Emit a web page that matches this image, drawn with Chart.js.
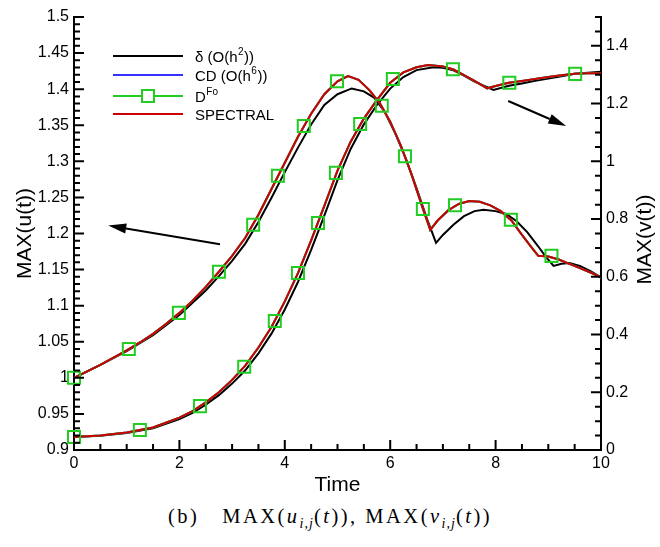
<!DOCTYPE html>
<html>
<head>
<meta charset="utf-8">
<script src="https://cdn.jsdelivr.net/npm/chart.js@4.4.1/dist/chart.umd.min.js"></script>
<style>
  body { margin: 0; background: #fff; }
  #wrap { position: relative; width: 660px; height: 500px; }
  #cap {
    position: absolute; left: 0; top: 505px; width: 660px; text-align: center;
    font-family: 'Liberation Serif', serif; font-size: 20.5px; letter-spacing: 2.5px; color: #000;
  }
  #cap sub { font-size: 14px; letter-spacing: 1px; }
</style>
</head>
<body>
<div id="wrap"><canvas id="maxChart"></canvas></div>
<div id="cap">(b)&nbsp;&nbsp;&nbsp;MAX(<i>u</i><sub><i>i,j</i></sub>(<i>t</i>)), MAX(<i>v</i><sub><i>i,j</i></sub>(<i>t</i>))</div>
<script>
// ---- data ----
// MAX(u) on the left axis
const tUSpectral = [0, 0.25, 0.5, 0.75, 1, 1.25, 1.5, 1.75, 2, 2.25, 2.5, 2.75, 3, 3.25, 3.5, 3.75, 4, 4.25, 4.5, 4.75, 5, 5.2, 5.4, 5.6, 5.8, 6, 6.2, 6.4, 6.6, 6.76, 6.9, 7.1, 7.3, 7.5, 7.7, 7.9, 8.1, 8.3, 8.5, 8.7, 8.81, 9, 9.2, 9.4, 9.6, 9.8, 10];
const uSpectral = [1.000, 1.009, 1.018, 1.028, 1.038, 1.049, 1.061, 1.075, 1.090, 1.107, 1.126, 1.147, 1.169, 1.194, 1.226, 1.262, 1.298, 1.334, 1.366, 1.393, 1.411, 1.418, 1.413, 1.399, 1.381, 1.355, 1.322, 1.283, 1.239, 1.205, 1.218, 1.232, 1.241, 1.245, 1.244, 1.239, 1.231, 1.218, 1.198, 1.179, 1.169, 1.168, 1.164, 1.158, 1.152, 1.146, 1.139];
const tUDelta = [0, 0.5, 1, 1.5, 2, 2.5, 2.75, 3, 3.25, 3.5, 3.75, 4, 4.25, 4.5, 4.75, 5, 5.27, 5.5, 5.7, 5.9, 6.1, 6.3, 6.5, 6.7, 6.87, 7, 7.2, 7.4, 7.6, 7.77, 8, 8.2, 8.4, 8.6, 8.8, 8.95, 9.1, 9.25, 9.4, 9.6, 9.8, 10];
const uDelta = [1.000, 1.018, 1.037, 1.059, 1.087, 1.121, 1.141, 1.162, 1.186, 1.216, 1.250, 1.285, 1.319, 1.351, 1.378, 1.393, 1.401, 1.397, 1.388, 1.368, 1.338, 1.303, 1.263, 1.220, 1.187, 1.198, 1.212, 1.224, 1.231, 1.233, 1.231, 1.227, 1.217, 1.202, 1.183, 1.168, 1.155, 1.158, 1.159, 1.155, 1.148, 1.139];
const tUFo = [0, 1.04, 1.99, 2.75, 3.40, 3.87, 4.36, 4.99, 5.84, 6.28, 6.62, 7.23, 8.29, 9.06];
const uFo = [1.000, 1.040, 1.090, 1.147, 1.212, 1.280, 1.349, 1.411, 1.377, 1.307, 1.234, 1.239, 1.219, 1.169];

// MAX(v) on the right axis
const tVSpectral = [0, 0.5, 1, 1.5, 2, 2.25, 2.5, 2.75, 3, 3.25, 3.5, 3.75, 4, 4.25, 4.5, 4.75, 5, 5.25, 5.5, 5.75, 6, 6.25, 6.5, 6.72, 7, 7.2, 7.4, 7.6, 7.84, 8, 8.25, 8.5, 8.75, 9, 9.25, 9.5, 9.75, 10];
const vSpectral = [0.045, 0.050, 0.061, 0.078, 0.112, 0.135, 0.165, 0.200, 0.243, 0.292, 0.355, 0.427, 0.515, 0.613, 0.726, 0.846, 0.968, 1.068, 1.148, 1.213, 1.272, 1.308, 1.326, 1.334, 1.329, 1.318, 1.299, 1.279, 1.253, 1.261, 1.272, 1.278, 1.285, 1.292, 1.298, 1.303, 1.305, 1.305];
const tVDelta = [0, 0.5, 1, 1.5, 2, 2.25, 2.5, 2.75, 3, 3.25, 3.5, 3.75, 4, 4.25, 4.5, 4.75, 5, 5.25, 5.5, 5.75, 6, 6.25, 6.5, 6.82, 7, 7.2, 7.4, 7.6, 7.96, 8.25, 8.5, 8.75, 9, 9.25, 9.5, 9.75, 10];
const vDelta = [0.045, 0.049, 0.059, 0.075, 0.107, 0.129, 0.157, 0.190, 0.230, 0.276, 0.335, 0.404, 0.487, 0.582, 0.693, 0.812, 0.935, 1.043, 1.128, 1.196, 1.252, 1.292, 1.316, 1.326, 1.324, 1.315, 1.297, 1.276, 1.247, 1.262, 1.270, 1.279, 1.287, 1.295, 1.303, 1.307, 1.310];
const tVFo = [0, 1.25, 2.39, 3.23, 3.81, 4.25, 4.63, 4.97, 5.43, 6.05, 7.19, 8.26, 9.51];
const vFo = [0.045, 0.069, 0.152, 0.288, 0.447, 0.613, 0.786, 0.960, 1.129, 1.285, 1.319, 1.272, 1.303];

// CD (O(h^6)) sits right under SPECTRAL in the picture
const uCD = uSpectral;
const vCD = vSpectral;

// tick labels
const timeTicks = [0, 2, 4, 6, 8, 10];
const uTicks = [0.9, 0.95, 1, 1.05, 1.1, 1.15, 1.2, 1.25, 1.3, 1.35, 1.4, 1.45, 1.5];
const vTicks = [0, 0.2, 0.4, 0.6, 0.8, 1, 1.2, 1.4];

const legendNames = ['δ (O(h', 'CD (O(h', 'D', 'SPECTRAL'];
const legendSups = ['2', '6', 'Fo', ''];
const legendTails = ['))', '))', '', ''];

// arrows pointing to the axis each curve belongs to: [t0, val0, t1, val1, axis]
const arrows = [[2.77, 1.185, 0.65, 1.211, 'y'], [8.24, 1.209, 9.34, 1.122, 'y2']];

const BLACK = '#000000', BLUE = '#3333ff', GREEN = '#22cc22', RED = '#cc0000';
const FONT = "'Liberation Sans', Arial, sans-serif";

function pts(ts, vs) {
    return ts.map((t, i) => ({x: t, y: vs[i]}));
}

function line(data, color, axis, order) {
    return {data: data, borderColor: color, backgroundColor: color, borderWidth: 2,
        pointRadius: 0, tension: 0, yAxisID: axis, order: order};
}

function marks(data, axis) {
    return {data: data, showLine: false, pointStyle: 'rect', pointRadius: 8.5,
        pointBorderWidth: 2, pointBorderColor: GREEN, pointBackgroundColor: 'rgba(0,0,0,0)',
        yAxisID: axis, order: 0, clip: false};
}

// inward major/minor ticks on the three axes
const axisTicks = {
    id: 'axisTicks',
    afterDatasetsDraw(chart) {
        const ctx = chart.ctx;
        const a = chart.chartArea;
        const sx = chart.scales.x, sy = chart.scales.y, sy2 = chart.scales.y2;
        ctx.save();
        ctx.strokeStyle = '#000';
        ctx.lineWidth = 2;
        ctx.beginPath();
        for (let i = 0; i <= 20; i++) {
            const px = sx.getPixelForValue(i * 0.5);
            const len = i % 4 === 0 ? 10 : 6;
            ctx.moveTo(px, a.bottom);
            ctx.lineTo(px, a.bottom - len);
        }
        for (let i = 0; i <= 60; i++) {
            const py = sy.getPixelForValue(0.9 + i * 0.01);
            const len = i % 5 === 0 ? 10 : 6;
            ctx.moveTo(a.left, py);
            ctx.lineTo(a.left + len, py);
        }
        for (let i = 0; i <= 30; i++) {
            const py = sy2.getPixelForValue(i * 0.05);
            const len = i % 4 === 0 ? 10 : 6;
            ctx.moveTo(a.right, py);
            ctx.lineTo(a.right - len, py);
        }
        ctx.stroke();
        ctx.restore();
    }
};

// axis titles, arrows and legend
const decorations = {
    id: 'decorations',
    afterDraw(chart) {
        const ctx = chart.ctx;
        const a = chart.chartArea;
        const sx = chart.scales.x;
        ctx.save();
        ctx.fillStyle = '#000';
        ctx.font = '21px ' + FONT;
        ctx.textAlign = 'center';
        ctx.textBaseline = 'middle';
        ctx.fillText('Time', (a.left + a.right) / 2, 485);
        const midY = (a.top + a.bottom) / 2;
        ctx.save();
        ctx.translate(25, midY); ctx.rotate(-Math.PI / 2);
        ctx.fillText('MAX(u(t))', 0, 0);
        ctx.restore();
        ctx.save();
        ctx.translate(645, midY + 6); ctx.rotate(-Math.PI / 2);
        ctx.fillText('MAX(v(t))', 0, 0);
        ctx.restore();

        // arrows
        ctx.strokeStyle = '#000';
        ctx.lineWidth = 2;
        arrows.forEach(([t0, v0, t1, v1, ax]) => {
            const s = chart.scales[ax];
            const x0 = sx.getPixelForValue(t0), y0 = s.getPixelForValue(v0);
            const x1 = sx.getPixelForValue(t1), y1 = s.getPixelForValue(v1);
            const ang = Math.atan2(y1 - y0, x1 - x0);
            const hl = 18, hw = 5;
            const bx = x1 - hl * Math.cos(ang), by = y1 - hl * Math.sin(ang);
            ctx.beginPath();
            ctx.moveTo(x0, y0); ctx.lineTo(bx, by);
            ctx.stroke();
            ctx.beginPath();
            ctx.moveTo(x1, y1);
            ctx.lineTo(bx + hw * Math.sin(ang), by - hw * Math.cos(ang));
            ctx.lineTo(bx - hw * Math.sin(ang), by + hw * Math.cos(ang));
            ctx.closePath();
            ctx.fill();
        });

        // legend
        const colors = [BLACK, BLUE, GREEN, RED];
        const rows = [56, 75, 96, 114];
        ctx.textAlign = 'left';
        ctx.textBaseline = 'alphabetic';
        rows.forEach((ry, i) => {
            ctx.strokeStyle = colors[i];
            ctx.lineWidth = 2;
            ctx.beginPath();
            ctx.moveTo(113, ry); ctx.lineTo(183, ry);
            ctx.stroke();
            if (i === 2) {
                ctx.fillStyle = '#fff';
                ctx.fillRect(142, ry - 6, 12, 12);
                ctx.strokeRect(142, ry - 6, 12, 12);
            }
            ctx.fillStyle = '#000';
            ctx.font = '15px ' + FONT;
            let tx = 195;
            ctx.fillText(legendNames[i], tx, ry + 5.5);
            tx += ctx.measureText(legendNames[i]).width;
            if (legendSups[i]) {
                ctx.font = '10px ' + FONT;
                ctx.fillText(legendSups[i], tx + 0.5, ry - 1);
                tx += ctx.measureText(legendSups[i]).width + 1;
                ctx.font = '15px ' + FONT;
            }
            if (legendTails[i]) ctx.fillText(legendTails[i], tx, ry + 5.5);
        });
        ctx.restore();
    }
};

const tickFont = {family: FONT, size: 16};
const noGrid = {display: false, drawTicks: false};

new Chart(document.getElementById('maxChart'), {
    type: 'line',
    data: {
        datasets: [
            line(pts(tUDelta, uDelta), BLACK, 'y', 4),
            line(pts(tVDelta, vDelta), BLACK, 'y2', 4),
            line(pts(tUSpectral, uCD), BLUE, 'y', 3),
            line(pts(tVSpectral, vCD), BLUE, 'y2', 3),
            line(pts(tUSpectral, uSpectral), GREEN, 'y', 2),
            line(pts(tVSpectral, vSpectral), GREEN, 'y2', 2),
            line(pts(tUSpectral, uSpectral), RED, 'y', 1),
            line(pts(tVSpectral, vSpectral), RED, 'y2', 1),
            marks(pts(tUFo, uFo), 'y'),
            marks(pts(tVFo, vFo), 'y2')
        ]
    },
    options: {
        responsive: true,
        maintainAspectRatio: false,
        animation: false,
        layout: {padding: {top: 17}},
        plugins: {legend: {display: false}, tooltip: {enabled: false}},
        scales: {
            x: {
                type: 'linear', min: 0, max: 10,
                grid: noGrid,
                border: {color: '#000', width: 2},
                afterBuildTicks: s => { s.ticks = timeTicks.map(v => ({value: v})); },
                afterFit: s => { s.height = 50; },
                ticks: {color: '#000', font: tickFont, padding: 4, maxRotation: 0, callback: v => String(v)}
            },
            y: {
                position: 'left', min: 0.9, max: 1.5,
                grid: noGrid,
                border: {color: '#000', width: 2},
                afterBuildTicks: s => { s.ticks = uTicks.map(v => ({value: v})); },
                afterFit: s => { s.width = 74; },
                ticks: {color: '#000', font: tickFont, padding: 5, callback: v => String(v)}
            },
            y2: {
                position: 'right', min: 0, max: 1.5,
                grid: noGrid,
                border: {color: '#000', width: 2},
                afterBuildTicks: s => { s.ticks = vTicks.map(v => ({value: v})); },
                afterFit: s => { s.width = 59; },
                ticks: {color: '#000', font: tickFont, padding: 5, callback: v => String(v)}
            }
        }
    },
    plugins: [axisTicks, decorations]
});
</script>
</body>
</html>
